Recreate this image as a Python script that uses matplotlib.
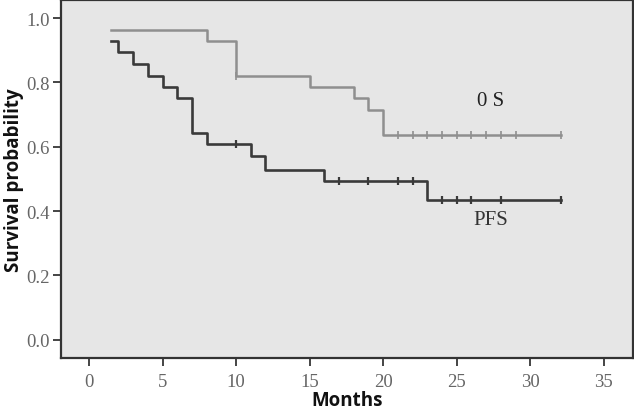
import matplotlib
matplotlib.use("Agg")
import matplotlib.pyplot as plt

# OS curve (step points: time, survival)
os_times = [1.5, 8.0, 10.0, 15.0, 18.0, 19.0, 20.0, 32.1]
os_surv = [0.964, 0.929, 0.821, 0.786, 0.750, 0.714, 0.636, 0.636]
os_censor_t = [10.0, 21, 22, 23, 24, 25, 26, 27, 28, 29, 32.1]

# PFS curve
pfs_times = [1.5, 2.0, 3.0, 4.0, 5.0, 6.0, 7.0, 8.0, 11.0, 12.0, 16.0, 23.0, 32.1]
pfs_surv = [0.929, 0.893, 0.857, 0.821, 0.786, 0.750, 0.643, 0.607, 0.571, 0.528, 0.493, 0.434, 0.434]
pfs_censor_t = [10.0, 17, 19, 21, 22, 24, 25, 26, 28, 32.1]

xticks = [0, 5, 10, 15, 20, 25, 30, 35]
yticks = [0.0, 0.2, 0.4, 0.6, 0.8, 1.0]


def step_value(times, surv, t):
    v = surv[0]
    for ti, si in zip(times, surv):
        if ti <= t:
            v = si
    return v


fig = plt.figure(figsize=(6.34, 4.14), dpi=100)
ax = fig.add_axes([0.0962, 0.1336, 0.9018, 0.864])
ax.set_facecolor("#e6e6e6")
fig.patch.set_facecolor("white")

os_color = "#8f8f8f"
pfs_color = "#3a3a3a"

ax.step(os_times, os_surv, where="post", color=os_color, lw=1.8)
ax.step(pfs_times, pfs_surv, where="post", color=pfs_color, lw=1.9)

os_cy = [step_value(os_times, os_surv, t) for t in os_censor_t]
pfs_cy = [step_value(pfs_times, pfs_surv, t) for t in pfs_censor_t]
ax.plot(os_censor_t, os_cy, ls="none", marker="|", ms=6, mew=1.2, color=os_color)
ax.plot(pfs_censor_t, pfs_cy, ls="none", marker="|", ms=6, mew=1.6, color=pfs_color)

ax.text(27.3, 0.745, "0 S", fontfamily="Liberation Serif", fontsize=15,
        ha="center", va="center", color="#222222")
ax.text(27.3, 0.375, "PFS", fontfamily="Liberation Serif", fontsize=15,
        ha="center", va="center", color="#333333")

ax.set_xlim(-1.9, 36.96)
ax.set_ylim(-0.056, 1.056)
ax.set_xticks(xticks)
ax.set_xticklabels([str(v) for v in xticks])
ax.set_yticks(yticks)
ax.set_yticklabels([f"{v:.1f}" for v in yticks])

for lab in ax.get_xticklabels() + ax.get_yticklabels():
    lab.set_fontfamily("Liberation Serif")
    lab.set_fontsize(13.5)
    lab.set_color("#666666")

ax.tick_params(axis="both", direction="out", length=6, width=1.4, color="#444444")
ax.tick_params(axis="y", pad=2)
ax.tick_params(axis="x", pad=5)

for s in ax.spines.values():
    s.set_color("#333333")
    s.set_linewidth(1.6)

ax.set_xlabel("Months", fontfamily="Open Sans", fontweight="bold", fontsize=13.5,
              color="#111111", labelpad=0)
ax.set_ylabel("Survival probability", fontfamily="Open Sans", fontweight="bold",
              fontsize=13.5, color="#111111", labelpad=2)

fig.savefig("out.png", dpi=100)
